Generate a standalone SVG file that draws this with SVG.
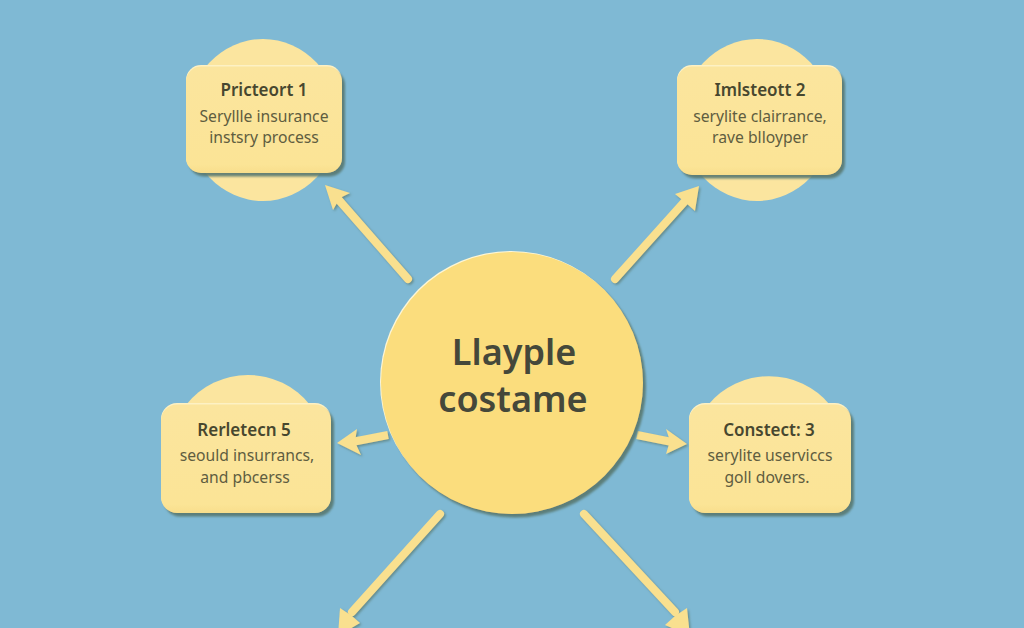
<svg xmlns="http://www.w3.org/2000/svg" width="1024" height="628" viewBox="0 0 1024 628">
<defs>
<filter id="soft" x="-20%" y="-20%" width="140%" height="140%"><feDropShadow dx="3" dy="3.500" stdDeviation="0.9" flood-color="#56786f" flood-opacity="0.9"/></filter>
<filter id="arrowsh" x="-30%" y="-30%" width="160%" height="160%"><feDropShadow dx="1.500" dy="1.500" stdDeviation="0.8" flood-color="#56786f" flood-opacity="0.7"/></filter>
<linearGradient id="boxg" x1="0" y1="0" x2="0" y2="1"><stop offset="0" stop-color="#fbe59e"/><stop offset="0.92" stop-color="#fbe496"/><stop offset="1" stop-color="#f8de8c"/></linearGradient>
</defs>
<style>
.lobe{fill:#fbe59f}
.box{fill:url(#boxg);filter:url(#soft)}
.hl{fill:#fdf1c4}
.shaft{stroke:#f9e08f;stroke-width:8;stroke-linecap:round;fill:none}
.shaft2{stroke:#f9e08f;stroke-width:8;stroke-linecap:butt;fill:none}
.head{fill:#f9e08f}
text{font-family:"Noto Sans","Liberation Sans",sans-serif;text-anchor:middle;fill:#47472f}
.t{font-size:17px;font-weight:600}
.s{font-size:15.700px;fill:#5f5d40}
.c{font-size:36px;font-weight:600;fill:#45483a}
</style>
<rect width="1024" height="628" fill="#7fb9d4"/>
<g id="connectors" filter="url(#arrowsh)">
<path class="shaft" d="M408 279L338 199"/><polygon class="head" points="325,185 350,193 340,198 333,210"/>
<path class="shaft" d="M615 279L686 200"/><polygon class="head" points="699,186 695,211 686,203 675,194"/>
<path class="shaft2" d="M388 435L352 442"/><polygon class="head" points="337,443 357,429 355,442 361,455"/>
<path class="shaft2" d="M637 435L672 442"/><polygon class="head" points="687,444 666,429 670,441 666,454"/>
<path class="shaft" d="M440 514L352 612"/><polygon class="head" points="338,636 340,608 352,616 360,623"/>
<path class="shaft" d="M584 514L675 612"/><polygon class="head" points="690,636 687,608 675,616 665,625"/>
</g>
<g id="center">
<circle cx="511" cy="382" r="131" fill="#fdf6d6"/>
<circle cx="512" cy="383" r="131" fill="#fbdd7d" filter="url(#soft)"/>
<text class="c" x="514" y="365">Llayple</text>
<text class="c" x="513" y="412">costame</text>
</g>
<g id="node1">
<ellipse class="lobe" cx="263" cy="120" rx="76" ry="81"/>
<rect class="hl" x="186" y="65" width="156" height="107" rx="15"/>
<rect class="box" x="186" y="66.500" width="156" height="106.500" rx="15"/>
<text class="t" x="264" y="96">Pricteort 1</text>
<text class="s" x="264" y="122">Seryllle insurance</text>
<text class="s" x="264" y="143">instsry process</text>
</g>
<g id="node2">
<ellipse class="lobe" cx="757" cy="120" rx="76" ry="81"/>
<rect class="hl" x="677" y="65" width="165" height="109" rx="15"/>
<rect class="box" x="677" y="66.500" width="165" height="108.500" rx="15"/>
<text class="t" x="760" y="96">Imlsteott 2</text>
<text class="s" x="760" y="122">serylite clairrance,</text>
<text class="s" x="760" y="143">rave blloyper</text>
</g>
<g id="node5">
<path class="lobe" d="M186 405A79 79 0 0 1 310 405Z"/>
<rect class="hl" x="161" y="403" width="170" height="109" rx="16"/>
<rect class="box" x="161" y="404.500" width="170" height="108.500" rx="16"/>
<text class="t" x="244" y="436">Rerletecn 5</text>
<text class="s" x="247" y="461">seould insurrancs,</text>
<text class="s" x="245" y="483">and pbcerss</text>
</g>
<g id="node3">
<path class="lobe" d="M708 405A79 79 0 0 1 830 405Z"/>
<rect class="hl" x="689" y="403" width="162" height="109" rx="16"/>
<rect class="box" x="689" y="404.500" width="162" height="108.500" rx="16"/>
<text class="t" x="769" y="436">Constect: 3</text>
<text class="s" x="770" y="461">serylite uservicсs</text>
<text class="s" x="767" y="483">goll dovers.</text>
</g>
</svg>
